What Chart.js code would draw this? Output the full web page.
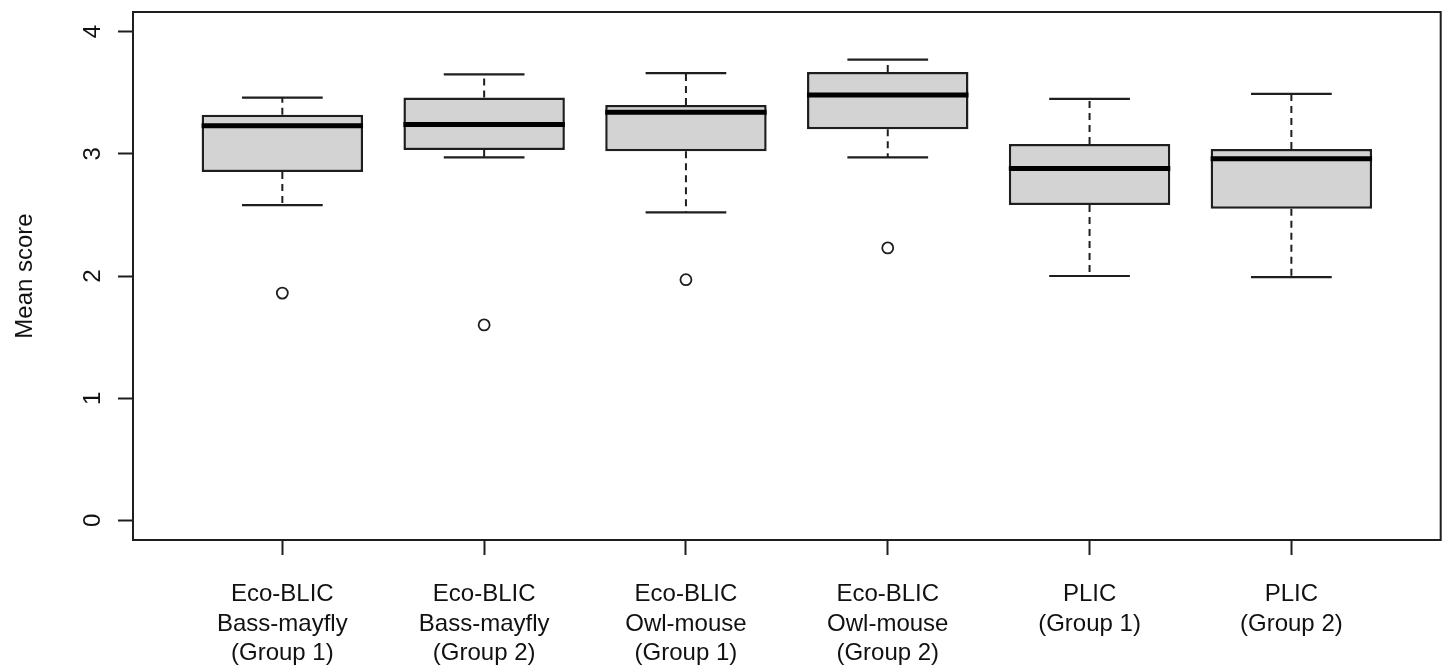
<!DOCTYPE html>
<html>
<head>
<meta charset="utf-8">
<script src="https://cdn.jsdelivr.net/npm/chart.js@4/dist/chart.umd.min.js"></script>
<style>
  html, body { margin: 0; padding: 0; background: #ffffff; }
  #wrap { width: 1448px; height: 667px; }
</style>
</head>
<body>
<div id="wrap"><canvas id="c" width="1448" height="667"></canvas></div>
<script>
// ---- data ----
const categories = [
  ["Eco-BLIC", "Bass-mayfly", "(Group 1)"],
  ["Eco-BLIC", "Bass-mayfly", "(Group 2)"],
  ["Eco-BLIC", "Owl-mouse", "(Group 1)"],
  ["Eco-BLIC", "Owl-mouse", "(Group 2)"],
  ["PLIC", "(Group 1)"],
  ["PLIC", "(Group 2)"]
];
const xPositions  = [1, 2, 3, 4, 5, 6];
const whiskerLow  = [2.58, 2.97, 2.52, 2.97, 2.00, 1.99];
const q1          = [2.85, 3.03, 3.02, 3.20, 2.58, 2.55];
const median      = [3.23, 3.24, 3.34, 3.48, 2.88, 2.96];
const q3          = [3.32, 3.46, 3.40, 3.67, 3.08, 3.04];
const whiskerHigh = [3.46, 3.65, 3.66, 3.77, 3.45, 3.49];
const outliers    = [1.86, 1.60, 1.97, 2.23, null, null];
const yTicks      = [0, 1, 2, 3, 4];
const yTitle      = "Mean score";

// ---- build datasets from arrays ----
const BOX_HALF = 0.4, CAP_HALF = 0.2;
const boxData = xPositions.map((x, i) => ({ x: x, y: [q1[i], q3[i]] }));
const medianData = [];
const whiskerData = [];
const capData = [];
xPositions.forEach((x, i) => {
  medianData.push({ x: x - BOX_HALF, y: median[i] }, { x: x + BOX_HALF, y: median[i] }, { x: x + BOX_HALF, y: null });
  whiskerData.push({ x: x, y: q3[i] }, { x: x, y: whiskerHigh[i] }, { x: x, y: null },
                   { x: x, y: q1[i] }, { x: x, y: whiskerLow[i] }, { x: x, y: null });
  capData.push({ x: x - CAP_HALF, y: whiskerHigh[i] }, { x: x + CAP_HALF, y: whiskerHigh[i] }, { x: x + CAP_HALF, y: null },
               { x: x - CAP_HALF, y: whiskerLow[i] }, { x: x + CAP_HALF, y: whiskerLow[i] }, { x: x + CAP_HALF, y: null });
});
const outlierData = [];
xPositions.forEach((x, i) => { if (outliers[i] !== null) outlierData.push({ x: x, y: outliers[i] }); });

const FONT = "'Liberation Sans', Arial, sans-serif";
const INK = '#1e1e1e';

const framePlugin = {
  id: 'frame',
  afterDraw(chart) {
    const a = chart.chartArea, ctx = chart.ctx;
    ctx.save();
    ctx.strokeStyle = INK;
    ctx.lineWidth = 2;
    ctx.strokeRect(a.left, a.top, a.right - a.left, a.bottom - a.top);
    ctx.restore();
  }
};

new Chart(document.getElementById('c'), {
  type: 'bar',
  data: {
    datasets: [
      {
        type: 'bar', label: 'box', data: boxData,
        backgroundColor: '#d3d3d3', borderColor: INK, borderWidth: 2.5, borderSkipped: false,
        barPercentage: 0.8, categoryPercentage: 1.0, order: 4
      },
      {
        type: 'line', label: 'whisker', data: whiskerData,
        borderColor: INK, borderWidth: 2, borderDash: [7, 5], pointRadius: 0,
        spanGaps: false, fill: false, tension: 0, order: 3
      },
      {
        type: 'line', label: 'cap', data: capData,
        borderColor: INK, borderWidth: 2.2, pointRadius: 0, borderCapStyle: 'butt',
        spanGaps: false, fill: false, tension: 0, order: 2
      },
      {
        type: 'line', label: 'median', data: medianData,
        borderColor: '#000', borderWidth: 5, pointRadius: 0, borderCapStyle: 'butt',
        spanGaps: false, fill: false, tension: 0, order: 1
      },
      {
        type: 'scatter', label: 'outlier', data: outlierData,
        pointStyle: 'circle', pointRadius: 5.5, pointBorderWidth: 1.8,
        pointBackgroundColor: '#ffffff', pointBorderColor: INK, showLine: false, order: 0
      }
    ]
  },
  options: {
    responsive: false,
    animation: false,
    layout: { padding: { top: 12, right: 7, left: 0, bottom: 0 } },
    plugins: { legend: { display: false }, tooltip: { enabled: false } },
    scales: {
      x: {
        type: 'linear', min: 0.26, max: 6.74, offset: false,
        grid: { display: true, offset: false, drawOnChartArea: false, drawTicks: true, tickLength: 15, tickWidth: 2, tickColor: INK },
        border: { display: false },
        afterBuildTicks(scale) { scale.ticks = xPositions.map(v => ({ value: v })); },
        afterFit(scale) { scale.height = 127; scale.paddingLeft = 0; scale.paddingRight = 0; },
        ticks: {
          autoSkip: false, minRotation: 0, maxRotation: 0, padding: 25,
          color: '#111', font: { family: FONT, size: 24, lineHeight: 1.23 },
          callback: (v, i) => categories[i]
        }
      },
      y: {
        type: 'linear', min: -0.16, max: 4.16,
        grid: { display: true, drawOnChartArea: false, drawTicks: true, tickLength: 15, tickWidth: 2, tickColor: INK },
        border: { display: false },
        afterBuildTicks(scale) { scale.ticks = yTicks.map(v => ({ value: v })); },
        afterFit(scale) { scale.width = 133; scale.paddingTop = 0; scale.paddingBottom = 0; },
        title: { display: true, text: yTitle, color: '#111', font: { family: FONT, size: 24, lineHeight: 1.2 }, padding: { top: 11, bottom: 0 } },
        ticks: {
          autoSkip: false, minRotation: 90, maxRotation: 90, padding: 18, crossAlign: 'center',
          color: '#111', font: { family: FONT, size: 24, lineHeight: 1.2 },
          callback: (v) => String(v)
        }
      }
    }
  },
  plugins: [framePlugin]
});
</script>
</body>
</html>
